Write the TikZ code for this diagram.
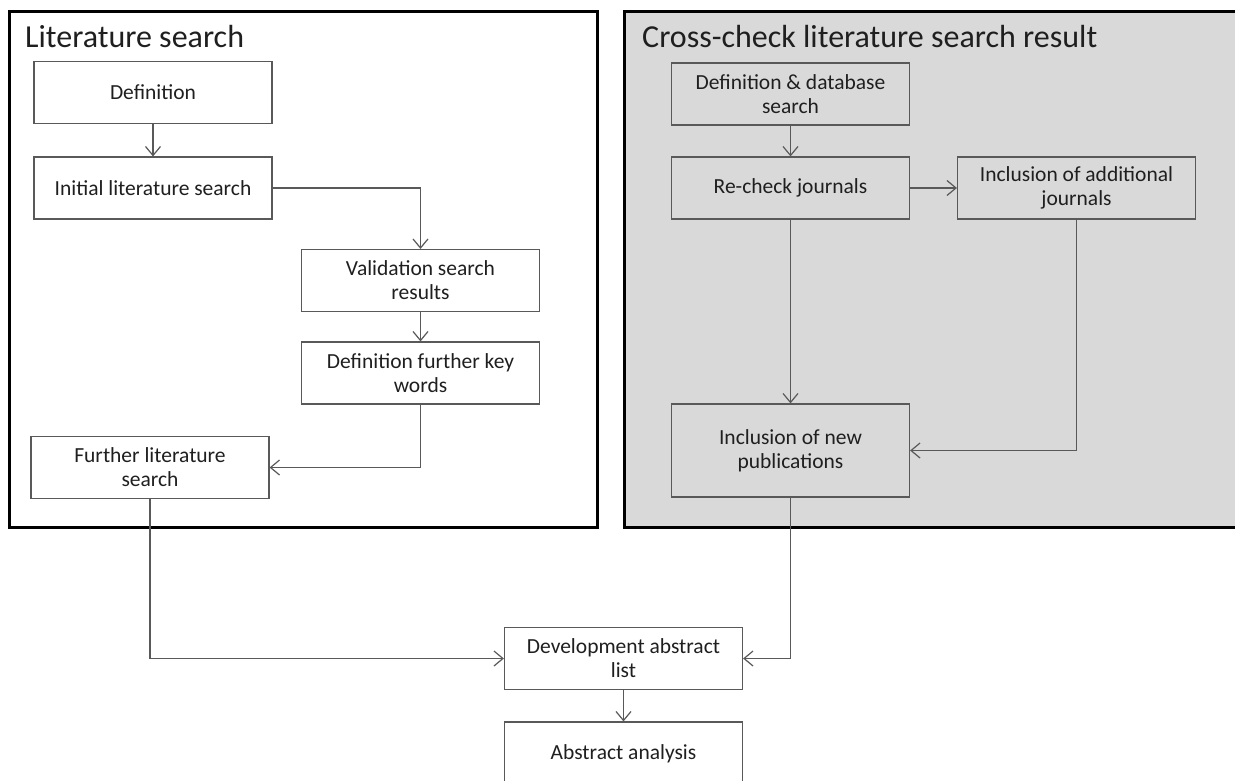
\documentclass[tikz,border=0pt]{standalone}
\usepackage{fontspec}
\setmainfont{Carlito}
\usetikzlibrary{arrows.meta}
\definecolor{PanelGray}{HTML}{D9D9D9}
\definecolor{LineGray}{HTML}{595959}
\definecolor{TextBlack}{HTML}{1F1F1F}

\tikzset{
  stage/.style={draw=LineGray, line width=1.2pt, minimum width=238pt, minimum height=62pt,
    align=center, text=TextBlack, inner sep=2pt, font=\fontsize{21.5}{24}\selectfont},
  flow/.style={-{Straight Barb[length=9pt,width=15pt,line width=1.2pt]}, line width=1.2pt, LineGray},
  panel/.style={line width=3pt, black},
  paneltitle/.style={anchor=base west, inner sep=0pt, text=TextBlack, font=\fontsize{32}{36}\selectfont}
}

\begin{document}
\begin{tikzpicture}[x=1pt, y=-1pt]
\useasboundingbox (0,0) rectangle (1235,780);

% Panels
\draw[panel] (9,11) rectangle (597,527);
\draw[panel, fill=PanelGray] (624,11) rectangle (1245,527);
\node[paneltitle] (littitle) at (25,47) {Literature search};
\node[paneltitle] (crosstitle) at (642,47) {Cross-check literature search result};

% Literature search
\node[stage] (defn) at (153,92.5) {Definition};
\node[stage] (init) at (153,188) {Initial literature search};
\node[stage] (valid) at (420.5,280.5) {Validation search\\results};
\node[stage] (keyw) at (420.5,373) {Definition further key\\words};
\node[stage] (furth) at (150,467.5) {Further literature\\search};

% Cross-check
\node[stage] (dbsearch) at (790.5,94) {Definition \& database\\search};
\node[stage] (recheck) at (790.5,188) {Re-check journals};
\node[stage] (addjour) at (1076.5,188) {Inclusion of additional\\journals};
\node[stage, minimum height=93pt] (newpub) at (790.5,450.5) {Inclusion of new\\publications};

% Abstracts
\node[stage] (devlist) at (623.5,658.5) {Development abstract\\list};
\node[stage, minimum height=64pt] (abstr) at (623.5,754) {Abstract analysis};

% Connectors
\draw[flow] (defn) -- (init);
\draw[flow] (init.east) -| (valid.north);
\draw[flow] (valid) -- (keyw);
\draw[flow] (keyw.south) |- (furth.east);
\draw[flow] (furth.south) |- (devlist.west);
\draw[flow] (dbsearch) -- (recheck);
\draw[flow] (recheck) -- (addjour);
\draw[flow] (recheck) -- (newpub);
\draw[flow] (addjour.south) |- (newpub.east);
\draw[flow] (newpub.south) |- (devlist.east);
\draw[flow] (devlist) -- (abstr);

\end{tikzpicture}
\end{document}
